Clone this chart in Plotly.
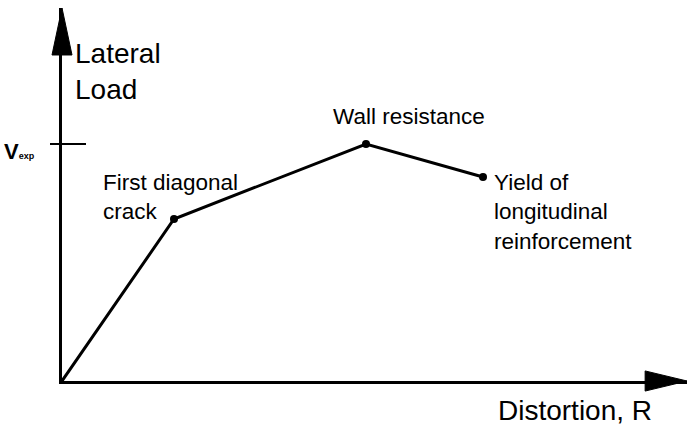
import plotly.graph_objects as go

# Idealised lateral load vs. distortion envelope of a wall
distortion = [0.0, 1.12, 3.04, 4.21]
lateral_load = [0.0, 1.62, 2.37, 2.04]
stage_labels = ["", "First diagonal<br>crack", "Wall resistance",
                "Yield of<br>longitudinal<br>reinforcement"]
v_exp = 2.37

X_MAX, Y_MAX = 6.25, 3.73
FONT = "Liberation Sans, Arial, sans-serif"

fig = go.Figure()

# envelope line
fig.add_trace(go.Scatter(
    x=distortion, y=lateral_load, mode="lines",
    line=dict(color="black", width=3), hoverinfo="skip", showlegend=False))

# characteristic points (origin is not marked)
fig.add_trace(go.Scatter(
    x=distortion[1:], y=lateral_load[1:], mode="markers",
    marker=dict(color="black", size=8), hoverinfo="skip", showlegend=False))

annotations = []
# point labels: (index, x anchor, pixel shifts)
label_layout = {
    1: dict(xanchor="left", xshift=-73, yshift=22),
    2: dict(xanchor="center", xshift=43, yshift=28),
    3: dict(xanchor="left", xshift=9, yshift=-35),
}
for i, opts in label_layout.items():
    annotations.append(dict(
        x=distortion[i], y=lateral_load[i], xref="x", yref="y",
        text=stage_labels[i], showarrow=False, align="left",
        yanchor="middle", font=dict(family=FONT, size=22.5, color="black"),
        **opts))

# axis titles
annotations.append(dict(
    x=0.0176, y=0.829, xref="paper", yref="paper", text="Lateral<br>Load",
    showarrow=False, xanchor="left", yanchor="middle", align="left",
    font=dict(family=FONT, size=28, color="black")))
annotations.append(dict(
    x=0.821, y=-0.078, xref="paper", yref="paper", text="Distortion, R",
    showarrow=False, xanchor="center", yanchor="middle",
    font=dict(family=FONT, size=28, color="black")))

# V_exp label at its tick
annotations.append(dict(
    x=-0.04, y=v_exp, xref="paper", yref="y",
    text="<b>V</b><span style='font-size:9px'><b>exp</b></span>",
    showarrow=False, xanchor="right", yanchor="middle", yshift=-7,
    font=dict(family=FONT, size=22, color="black")))

shapes = [
    # V_exp tick across the load axis
    dict(type="line", xref="paper", yref="y", x0=-0.0192, x1=0.0384,
         y0=v_exp, y1=v_exp, line=dict(color="black", width=2)),
    # arrowhead of the load axis
    dict(type="path", xref="paper", yref="paper",
         path="M -0.016 0.874 L 0.016 0.874 L 0 1 Z",
         fillcolor="black", line=dict(color="black", width=1)),
    # arrowhead of the distortion axis
    dict(type="path", xref="paper", yref="paper",
         path="M 0.933 -0.027 L 0.933 0.027 L 1 0 Z",
         fillcolor="black", line=dict(color="black", width=1)),
]

axis_common = dict(showgrid=False, zeroline=False, showticklabels=False,
                   ticks="", showline=True, linecolor="black", linewidth=3)
fig.update_layout(
    width=687, height=426,
    margin=dict(l=62, r=0, t=8, b=45),
    paper_bgcolor="white", plot_bgcolor="white",
    xaxis=dict(range=[0, X_MAX], **axis_common),
    yaxis=dict(range=[0, Y_MAX], **axis_common),
    annotations=annotations, shapes=shapes,
)

fig.write_html("out.html")
